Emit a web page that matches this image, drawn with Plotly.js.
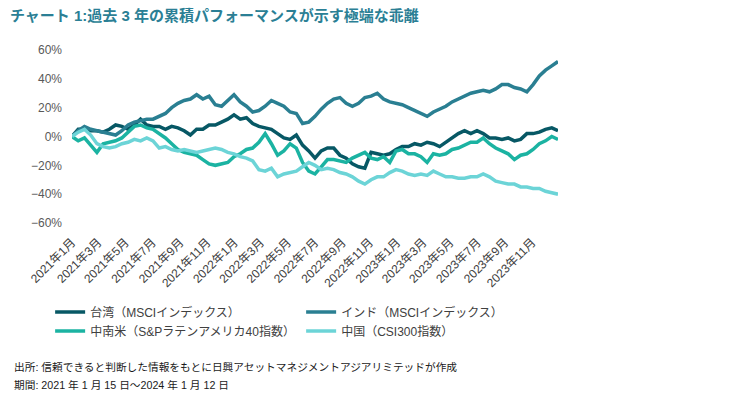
<!DOCTYPE html>
<html>
<head>
<meta charset="utf-8">
<script src="https://cdn.plot.ly/plotly-3.0.1.min.js"></script>
<style>html,body{margin:0;padding:0;background:#fff;}#chart{width:746px;height:402px;}</style>
</head>
<body>
<div id="chart"></div>
<script>
// Biweekly observation dates (2021-01-15 .. 2024-01-12)
const dates = [
"2021-01-15","2021-01-29","2021-02-12","2021-02-26","2021-03-12","2021-03-26","2021-04-09","2021-04-23","2021-05-07","2021-05-21",
"2021-06-04","2021-06-18","2021-07-02","2021-07-16","2021-07-30","2021-08-13","2021-08-27","2021-09-10","2021-09-24","2021-10-08",
"2021-10-22","2021-11-05","2021-11-19","2021-12-03","2021-12-17","2021-12-31",
"2022-01-14","2022-01-28","2022-02-11","2022-02-25","2022-03-11","2022-03-25","2022-04-08","2022-04-22","2022-05-06","2022-05-20",
"2022-06-03","2022-06-17","2022-07-01","2022-07-15","2022-07-29","2022-08-12","2022-08-26","2022-09-09","2022-09-23","2022-10-07",
"2022-10-21","2022-11-04","2022-11-18","2022-12-02","2022-12-16","2022-12-30",
"2023-01-13","2023-01-27","2023-02-10","2023-02-24","2023-03-10","2023-03-24","2023-04-07","2023-04-21","2023-05-05","2023-05-19",
"2023-06-02","2023-06-16","2023-06-30","2023-07-14","2023-07-28","2023-08-11","2023-08-25","2023-09-08","2023-09-22","2023-10-06",
"2023-10-20","2023-11-03","2023-11-17","2023-12-01","2023-12-15","2023-12-29",
"2024-01-12"];

// Cumulative performance (%)
const taiwan = [0,5,5,4,4,3,5,8,7,5,8,12,8,7,7,5,7,6,4,1,5,5,8,8,10,12,
 15,12,13,9,7,6,5,2,-1,-2,1,-6,-10,-15,-10,-8,-8,-13,-15,-19,-21,-22,-11,-12,-13,-12,
 -9,-7,-7,-5,-6,-4,-5,-7,-4,-1,2,4,2,4,2,-1,-1,-2,-1,-3,-2,2,2,3,5,6,
 4];
const india = [0,4,7,5,4,3,2,1,4,8,10,11,12,12,14,16,20,23,25,26,29,26,28,22,21,25,
 29,24,21,17,18,21,25,23,21,17,16,9,10,14,19,23,26,27,23,21,23,27,28,30,26,24,
 23,22,20,18,16,14,17,19,21,24,26,28,30,31,32,31,33,36,36,34,33,31,36,42,46,49,
 52];
const latam = [0,-3,-1,-6,-11,-5,-4,-3,-1,3,7,8,6,5,2,-1,-5,-9,-11,-12,-13,-16,-19,-20,-19,-18,
 -14,-12,-9,-8,-4,2,-5,-13,-10,-5,-8,-18,-24,-26,-21,-16,-16,-17,-18,-15,-13,-11,-15,-16,-14,-18,
 -10,-9,-12,-12,-14,-18,-12,-13,-12,-9,-8,-6,-4,-4,-1,-5,-8,-10,-12,-16,-13,-12,-9,-5,-3,0,
 -2];
const china = [0,3,5,1,-5,-7,-8,-7,-5,-4,-2,-3,-1,-3,-8,-7,-9,-10,-9,-10,-11,-10,-9,-8,-9,-11,
 -12,-14,-15,-17,-23,-24,-22,-28,-26,-25,-24,-21,-18,-20,-23,-22,-23,-25,-26,-28,-31,-33,-30,-28,-28,-25,
 -23,-24,-26,-27,-26,-27,-24,-26,-28,-28,-29,-29,-28,-28,-26,-28,-31,-32,-33,-33,-35,-35,-36,-36,-38,-39,
 -40];

const seriesNames = ["台湾（MSCIインデックス）","インド（MSCIインデックス）","中南米（S&amp;Pラテンアメリカ40指数）","中国（CSI300指数）"];
const seriesColors = ["#075865","#2a7f92","#1bb3a2","#6cd4d7"];

const tickVals = ["2021-01-15","2021-03-15","2021-05-15","2021-07-15","2021-09-15","2021-11-15",
 "2022-01-15","2022-03-15","2022-05-15","2022-07-15","2022-09-15","2022-11-15",
 "2023-01-15","2023-03-15","2023-05-15","2023-07-15","2023-09-15","2023-11-15"];
const tickText = ["2021年1月","2021年3月","2021年5月","2021年7月","2021年9月","2021年11月",
 "2022年1月","2022年3月","2022年5月","2022年7月","2022年9月","2022年11月",
 "2023年1月","2023年3月","2023年5月","2023年7月","2023年9月","2023年11月"];

const FONT = 'Liberation Sans, "Noto Sans CJK JP", Arial, sans-serif';
const values = [taiwan, india, latam, china];
const traces = values.map((v, i) => ({
  type: "scatter", mode: "lines", x: dates, y: v, name: seriesNames[i],
  line: {color: seriesColors[i], width: 3.5}
}));

const layout = {
  width: 746, height: 402, autosize: false,
  margin: {l: 72, r: 188, t: 50, b: 179, pad: 0},
  paper_bgcolor: "#ffffff", plot_bgcolor: "#ffffff",
  font: {family: FONT, color: "#404040"},
  title: {
    text: "チャート 1:過去 3 年の累積パフォーマンスが示す極端な乖離",
    font: {family: FONT, size: 15, color: "#2b7f95", weight: "bold"},
    xref: "container", yref: "container", x: 10/746, xanchor: "left", y: 1 - 16/402, yanchor: "middle"
  },
  xaxis: {
    type: "date", range: ["2021-01-15", "2024-01-12"],
    tickmode: "array", tickvals: tickVals, ticktext: tickText, tickangle: -45,
    showgrid: false, showline: false, zeroline: false, ticks: "",
    ticklabelstandoff: 9,
    tickfont: {family: FONT, size: 12, color: "#404040"}
  },
  xaxis2: {
    type: "date", range: ["2021-01-15", "2024-01-12"], overlaying: "x", anchor: "free", position: 0.5,
    tickmode: "array", tickvals: tickVals, showticklabels: false,
    showgrid: false, showline: true, linecolor: "#d9d9d9", linewidth: 1,
    ticks: "outside", ticklen: 4, tickcolor: "#d9d9d9", zeroline: false
  },
  yaxis: {
    range: [-60, 60], dtick: 20, tick0: 0, ticksuffix: "%",
    showgrid: false, zeroline: false, showline: false, ticks: "",
    ticklabelstandoff: 9,
    tickfont: {family: FONT, size: 12, color: "#595959"}
  },
  legend: {
    orientation: "h", x: -0.045, xanchor: "left", y: -0.43, yanchor: "top",
    entrywidth: 206, entrywidthmode: "pixels",
    font: {family: FONT, size: 12, color: "#404040"},
    bgcolor: "rgba(0,0,0,0)", traceorder: "normal"
  },
  annotations: [
    {xref: "paper", yref: "paper", x: -0.1235, y: -0.832, xanchor: "left", yanchor: "middle", showarrow: false,
     text: "出所: 信頼できると判断した情報をもとに日興アセットマネジメントアジアリミテッドが作成",
     font: {family: FONT, size: 10.7, color: "#1a1a1a"}},
    {xref: "paper", yref: "paper", x: -0.1235, y: -0.936, xanchor: "left", yanchor: "middle", showarrow: false,
     text: "期間: 2021 年 1 月 15 日～2024 年 1 月 12 日",
     font: {family: FONT, size: 10.7, color: "#1a1a1a"}}
  ],
  showlegend: true
};

Plotly.newPlot("chart", traces, layout, {displayModeBar: false, staticPlot: true});
</script>
</body>
</html>
